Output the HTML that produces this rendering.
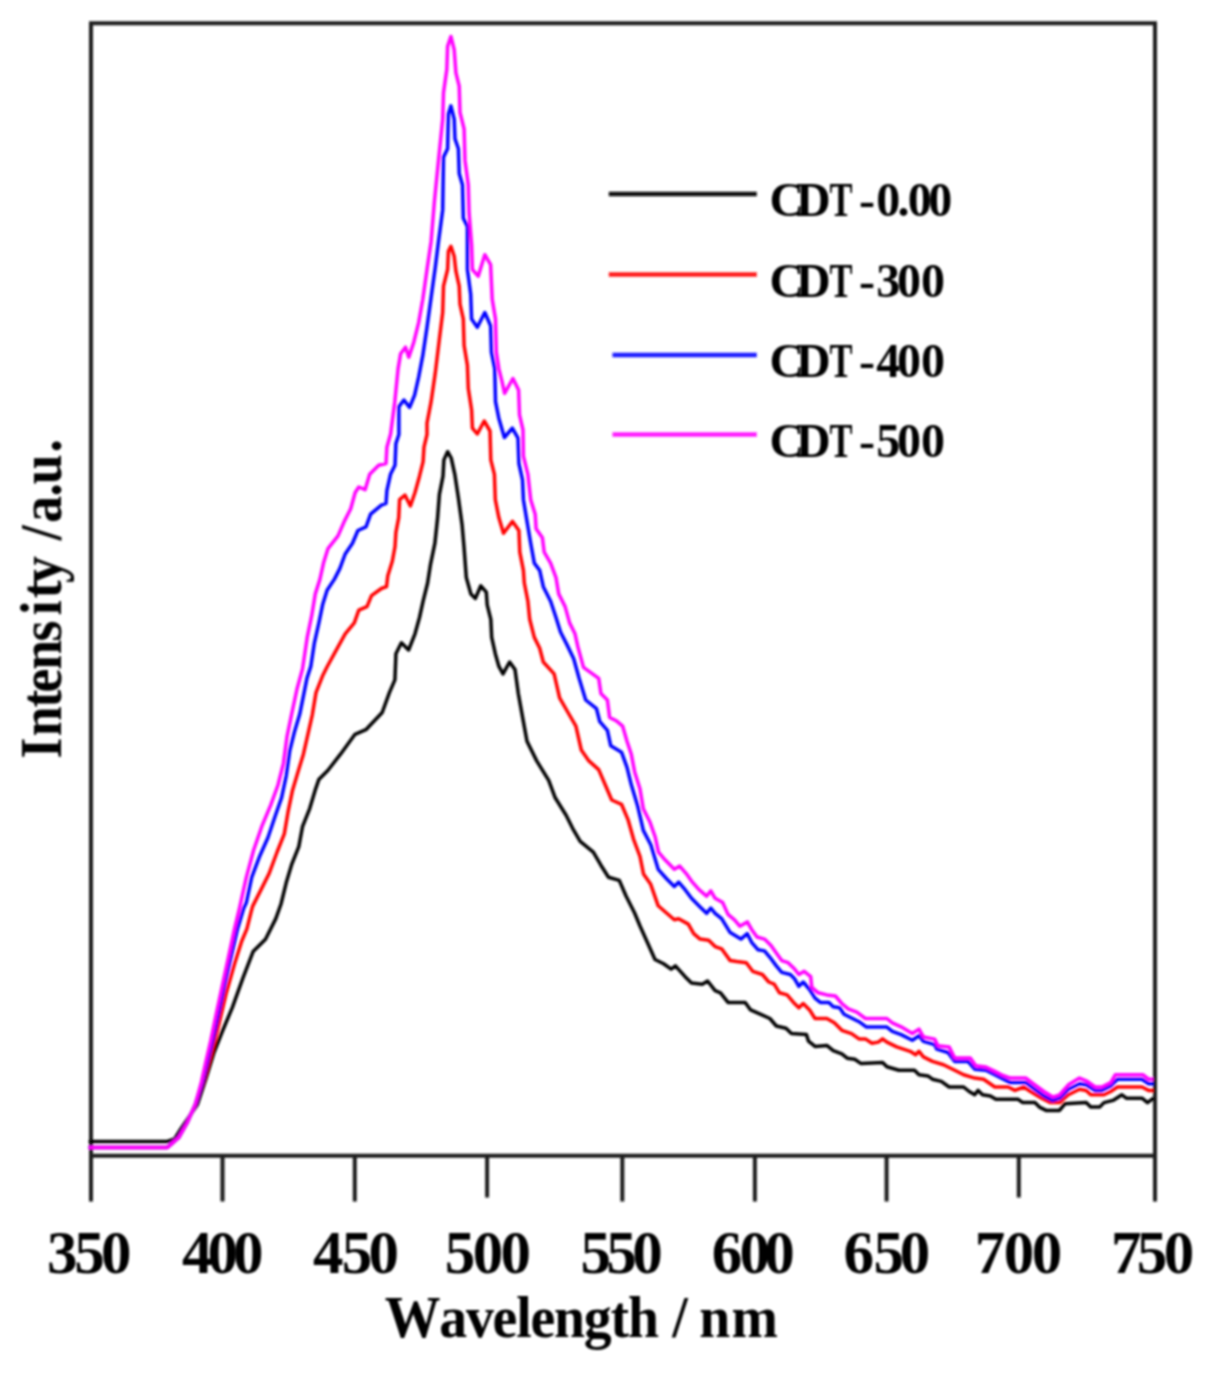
<!DOCTYPE html>
<html><head><meta charset="utf-8"><title>PL spectra</title>
<style>html,body{margin:0;padding:0;background:#fff}svg{display:block}</style></head>
<body>
<svg width="1211" height="1380" viewBox="0 0 1211 1380" font-family='"Liberation Serif", serif' font-weight="bold" fill="#000">
<rect width="1211" height="1380" fill="#fff"/>
<defs><filter id="soft" x="0" y="0" width="1211" height="1380" filterUnits="userSpaceOnUse"><feGaussianBlur stdDeviation="1"/></filter></defs>
<g filter="url(#soft)">
<g stroke="#1c1c1c" stroke-width="4" fill="none" stroke-linecap="square">
<path d="M91,1155.8 L91,23.2 L1155,23.2 L1155,1155.8 Z"/>
<path d="M91,1155.8 L91,1201.5" stroke-linecap="butt"/>
<path d="M222.5,1155.8 L222.5,1201.5" stroke-linecap="butt"/>
<path d="M354.8,1155.8 L354.8,1201.5" stroke-linecap="butt"/>
<path d="M487.1,1155.8 L487.1,1197.5" stroke-linecap="butt"/>
<path d="M622.3,1155.8 L622.3,1201.5" stroke-linecap="butt"/>
<path d="M754.9,1155.8 L754.9,1201.5" stroke-linecap="butt"/>
<path d="M886.6,1155.8 L886.6,1201.5" stroke-linecap="butt"/>
<path d="M1018.8,1155.8 L1018.8,1197.5" stroke-linecap="butt"/>
<path d="M1155,1155.8 L1155,1201.5" stroke-linecap="butt"/>
</g>
<path d="M88.6,1141.5 L167.4,1141.5 L174.6,1139.0 L180.8,1129.0 L197.4,1104.4 L205.6,1079.6 L213.9,1052.8 L222.1,1032.0 L232.4,1007.4 L242.8,978.4 L253.1,951.6 L265.5,939.2 L275.8,918.6 L281.0,904.0 L286.2,882.8 L291.6,864.7 L298.8,846.6 L302.5,826.7 L309.7,808.6 L315.1,790.4 L318.8,779.6 L327.8,770.5 L340.5,754.2 L355.0,734.3 L365.9,729.7 L382.2,712.5 L389.4,692.6 L394.9,679.9 L395.7,660.0 L395.9,653.7 L401.4,642.8 L408.6,650.0 L415.0,633.8 L419.5,617.5 L423.1,601.2 L427.6,583.0 L430.4,564.9 L434.9,543.2 L437.6,517.8 L439.4,494.3 L443.0,476.2 L443.9,459.9 L447.6,451.7 L451.2,458.0 L454.8,474.3 L458.4,497.9 L462.1,525.1 L464.0,546.8 L466.3,577.6 L470.9,593.9 L475.4,598.4 L480.8,585.8 L486.3,592.1 L487.2,604.8 L490.8,619.3 L491.7,637.4 L495.3,653.7 L498.9,666.4 L503.0,673.9 L509.6,662.0 L515.0,669.6 L518.3,693.5 L522.6,717.4 L527.0,741.3 L536.7,760.9 L548.7,780.4 L555.2,797.8 L566.1,815.2 L572.6,828.3 L580.2,841.3 L593.3,852.2 L600.9,865.2 L608.5,877.2 L619.3,880.4 L625.9,895.7 L634.6,913.0 L640.0,926.0 L646.4,940.2 L655.0,959.5 L663.6,963.8 L671.1,969.1 L675.4,965.9 L685.1,976.7 L691.5,983.1 L702.3,984.2 L707.6,981.0 L715.1,990.6 L720.5,992.8 L728.0,1002.4 L745.2,1002.4 L750.6,1009.9 L760.2,1014.2 L769.9,1018.5 L776.3,1026.0 L786.0,1028.2 L791.4,1033.6 L806.4,1034.6 L808.5,1041.1 L815.0,1046.4 L826.8,1045.4 L833.2,1050.7 L841.8,1053.9 L847.2,1058.2 L854.7,1059.3 L861.1,1063.6 L882.6,1062.5 L886.9,1066.8 L898.9,1070.3 L914.5,1070.3 L919.0,1074.8 L927.9,1075.9 L932.4,1079.2 L941.3,1081.4 L949.1,1087.0 L963.6,1087.0 L969.2,1091.5 L974.7,1094.8 L978.1,1090.4 L982.5,1094.8 L990.3,1095.9 L995.9,1099.3 L1018.2,1099.3 L1022.7,1102.6 L1034.9,1102.6 L1039.4,1107.1 L1046.1,1110.4 L1059.5,1110.4 L1065.0,1103.7 L1086.2,1102.6 L1090.7,1107.1 L1099.6,1107.1 L1104.0,1102.6 L1113.0,1100.4 L1121.9,1094.8 L1126.3,1098.2 L1142.0,1098.2 L1147.5,1102.6 L1153.5,1098.2" fill="none" stroke="#000000" stroke-width="3.5" stroke-linejoin="round" stroke-linecap="butt"/>
<path d="M88.6,1147.4 L167.4,1147.4 L178.8,1137.4 L187.0,1123.0 L195.3,1104.4 L203.0,1083.0 L211.0,1055.0 L219.0,1023.9 L226.3,992.9 L234.5,964.0 L241.7,941.3 L246.9,928.9 L251.0,912.4 L252.6,906.4 L260.8,890.1 L269.0,873.8 L277.1,852.0 L284.3,833.9 L288.0,812.2 L292.5,790.4 L297.9,772.3 L303.4,754.2 L307.9,734.3 L312.4,714.3 L316.0,692.6 L322.4,676.3 L327.0,667.0 L334.3,653.7 L345.2,633.8 L354.3,622.9 L358.8,610.2 L367.0,606.6 L371.5,595.7 L381.4,588.5 L386.5,586.7 L387.8,575.8 L392.3,561.3 L395.0,546.8 L395.9,532.3 L398.7,517.8 L399.6,499.7 L405.0,495.2 L410.4,506.0 L415.0,492.5 L419.5,476.2 L423.1,461.7 L424.0,447.2 L427.0,434.5 L427.0,423.1 L431.1,401.7 L435.2,373.6 L439.4,338.9 L442.7,312.5 L443.5,286.1 L447.6,269.5 L448.4,251.4 L450.9,246.4 L454.2,256.3 L455.9,271.2 L459.2,286.1 L460.0,304.2 L463.3,319.1 L464.1,345.5 L467.4,365.3 L468.3,388.5 L471.6,409.9 L472.4,428.1 L477.3,434.0 L484.2,421.0 L490.0,431.0 L490.8,459.9 L494.4,474.3 L495.3,499.7 L498.9,517.8 L503.5,533.2 L512.5,521.4 L518.9,530.5 L519.8,552.2 L523.4,570.4 L524.3,583.0 L527.9,601.2 L529.7,619.3 L534.3,637.4 L539.7,648.3 L543.3,662.0 L554.1,673.9 L559.6,697.8 L568.3,713.0 L575.9,726.1 L581.3,750.0 L588.9,760.9 L598.7,769.6 L605.2,784.8 L611.7,800.0 L621.5,804.3 L628.0,819.6 L633.5,839.1 L640.0,856.5 L643.5,874.0 L650.7,884.3 L658.2,905.8 L666.8,913.3 L674.3,919.8 L678.6,918.7 L688.3,924.1 L693.7,933.7 L700.1,939.1 L708.7,940.2 L715.1,946.6 L721.6,948.8 L730.2,960.6 L736.6,961.6 L746.3,962.7 L752.7,971.3 L762.4,974.5 L768.8,982.0 L774.2,984.2 L779.5,992.8 L787.1,994.9 L793.5,1002.4 L798.9,1007.8 L803.2,1003.5 L809.6,1009.9 L815.0,1018.5 L826.8,1018.5 L834.3,1022.8 L841.8,1030.3 L851.5,1033.6 L859.0,1038.9 L865.4,1038.9 L871.9,1043.2 L878.3,1042.1 L882.6,1038.9 L886.9,1042.1 L896.7,1046.9 L910.1,1051.3 L915.6,1054.7 L919.0,1051.3 L923.4,1056.9 L932.4,1061.4 L943.5,1064.7 L954.7,1070.3 L963.6,1074.8 L974.7,1078.1 L983.6,1079.2 L994.8,1087.0 L1008.2,1087.0 L1014.9,1090.4 L1023.8,1087.0 L1030.5,1091.5 L1041.6,1098.2 L1050.5,1102.6 L1059.5,1102.6 L1068.4,1094.8 L1079.5,1089.3 L1086.2,1090.4 L1090.7,1094.8 L1104.0,1094.8 L1110.7,1091.5 L1117.4,1087.0 L1142.0,1087.0 L1148.6,1090.4 L1153.5,1090.4" fill="none" stroke="#ff0000" stroke-width="3.5" stroke-linejoin="round" stroke-linecap="butt"/>
<path d="M88.6,1147.4 L167.4,1147.4 L178.8,1137.4 L187.0,1123.0 L195.3,1104.4 L202.5,1081.7 L207.0,1063.0 L212.5,1040.4 L217.9,1015.6 L224.1,986.7 L230.8,957.8 L237.5,928.9 L243.7,908.3 L246.3,902.8 L251.7,877.4 L259.9,855.7 L268.0,837.5 L275.3,815.8 L281.6,797.7 L286.2,776.0 L289.8,750.6 L294.3,732.5 L299.7,714.3 L303.4,696.2 L307.0,678.1 L310.8,666.4 L314.4,642.8 L318.9,622.9 L322.6,604.8 L327.1,590.3 L334.3,579.4 L339.8,568.6 L345.2,554.0 L352.5,543.2 L357.9,530.5 L366.0,526.9 L370.6,514.2 L381.4,505.1 L386.0,503.3 L386.9,490.7 L390.5,474.3 L395.0,465.3 L395.9,443.6 L398.9,434.5 L398.9,406.6 L403.9,400.0 L409.6,407.4 L414.6,395.1 L418.7,376.9 L422.8,355.4 L427.0,327.3 L431.1,297.6 L435.2,267.9 L438.5,241.5 L442.7,209.9 L443.5,157.1 L447.6,148.8 L448.4,114.1 L450.9,105.9 L454.2,119.1 L455.0,138.9 L458.4,148.8 L459.2,173.6 L462.5,185.1 L463.3,218.2 L467.4,226.4 L467.4,269.5 L470.7,294.3 L471.6,319.1 L477.3,327.3 L484.8,312.5 L490.6,325.7 L491.4,352.1 L494.7,368.6 L495.5,401.7 L498.8,418.2 L504.4,437.5 L512.3,428.2 L518.0,438.1 L518.9,463.5 L522.5,479.8 L523.4,499.7 L527.0,521.4 L530.7,543.2 L534.3,563.1 L539.7,570.4 L543.3,586.7 L550.6,601.2 L556.0,617.5 L560.5,632.0 L566.9,644.6 L573.7,658.7 L579.1,678.3 L585.7,700.0 L596.5,708.7 L599.8,721.7 L607.4,730.4 L610.7,745.7 L621.5,752.2 L627.0,767.4 L631.3,784.8 L637.8,806.5 L643.3,830.4 L650.9,845.0 L658.2,869.3 L666.8,879.0 L674.3,886.5 L678.6,882.2 L685.1,889.7 L691.5,898.3 L700.1,906.9 L706.6,913.3 L710.8,908.0 L715.1,913.3 L721.6,918.7 L730.2,932.6 L740.9,939.1 L747.3,933.7 L751.6,942.3 L758.1,949.8 L764.5,950.9 L769.9,957.3 L776.3,965.9 L781.7,972.4 L790.3,974.5 L794.6,978.8 L798.9,986.3 L803.2,982.0 L809.6,989.5 L815.0,998.1 L820.3,1002.4 L828.9,1002.4 L833.2,1006.7 L839.7,1007.8 L844.0,1014.2 L852.5,1018.5 L859.0,1021.7 L866.5,1027.1 L886.9,1027.1 L892.3,1031.4 L901.1,1034.6 L912.3,1040.2 L919.0,1035.7 L923.4,1041.3 L934.6,1044.7 L936.8,1049.1 L948.0,1052.5 L954.7,1061.4 L968.0,1061.4 L974.7,1069.2 L985.9,1070.3 L994.8,1074.8 L1001.5,1078.1 L1010.4,1082.6 L1026.0,1082.6 L1034.9,1089.3 L1043.9,1095.9 L1052.8,1100.4 L1059.5,1098.2 L1068.4,1089.3 L1079.5,1083.7 L1086.2,1084.8 L1095.1,1090.4 L1101.8,1090.4 L1110.7,1085.9 L1117.4,1079.2 L1142.0,1079.2 L1148.6,1083.7 L1153.5,1083.7" fill="none" stroke="#0000ff" stroke-width="3.5" stroke-linejoin="round" stroke-linecap="butt"/>
<path d="M88.6,1147.4 L167.4,1147.4 L178.8,1137.4 L187.0,1123.0 L195.3,1104.4 L201.5,1081.7 L205.6,1063.0 L210.8,1040.4 L215.9,1015.6 L222.1,986.7 L228.3,957.8 L234.5,928.9 L239.5,908.2 L246.3,877.4 L253.6,850.2 L261.7,826.7 L270.8,804.9 L278.0,785.0 L283.4,763.3 L287.1,736.1 L291.6,714.3 L297.0,689.0 L302.5,669.0 L307.2,637.4 L311.7,615.7 L315.3,593.9 L319.9,579.4 L323.5,563.1 L328.0,548.6 L338.0,535.9 L344.3,521.4 L350.7,508.8 L355.2,492.5 L358.8,487.0 L365.1,489.7 L369.7,474.3 L378.7,465.3 L386.0,463.5 L386.9,447.2 L390.6,434.0 L394.8,401.7 L398.1,368.6 L400.6,353.8 L405.5,347.2 L408.8,357.1 L413.8,342.2 L418.7,322.4 L422.8,299.3 L427.0,269.5 L431.1,241.5 L434.4,201.7 L438.5,160.4 L442.7,119.1 L443.5,92.7 L446.8,69.5 L447.6,46.4 L450.9,36.5 L454.2,49.7 L455.9,72.8 L459.2,86.1 L460.0,112.5 L464.1,129.0 L465.0,160.4 L468.3,185.1 L469.1,213.2 L471.6,244.8 L472.4,269.5 L478.2,276.2 L484.8,254.7 L490.6,264.6 L492.2,299.3 L495.5,319.1 L496.3,352.1 L498.8,368.6 L502.1,381.8 L504.6,393.4 L512.9,378.5 L518.6,390.1 L519.5,414.9 L523.0,430.0 L523.4,456.2 L527.9,474.3 L530.7,499.7 L535.2,514.2 L536.1,528.7 L542.4,537.8 L544.2,552.2 L550.6,563.1 L556.0,577.6 L558.7,593.9 L565.1,606.6 L569.6,622.9 L575.0,633.8 L577.8,646.5 L583.5,667.4 L598.7,678.3 L600.9,693.5 L607.4,700.0 L609.6,717.4 L616.1,720.7 L622.6,726.1 L627.0,741.3 L631.3,754.3 L634.6,771.7 L640.0,789.1 L643.3,808.7 L649.8,821.7 L655.2,837.0 L658.5,852.2 L665.0,859.8 L674.3,869.3 L679.7,866.1 L686.2,873.6 L691.5,881.1 L699.0,889.7 L706.6,896.2 L710.8,890.8 L715.1,898.3 L722.7,902.6 L728.0,914.4 L734.5,919.8 L739.8,926.2 L747.3,921.9 L751.6,929.4 L757.0,937.0 L764.5,939.1 L771.0,945.5 L776.3,953.0 L781.7,960.6 L788.1,962.7 L794.6,969.1 L798.9,974.5 L804.2,971.3 L810.7,976.7 L811.8,987.4 L818.2,992.8 L826.8,994.9 L835.4,996.0 L841.8,1003.5 L848.2,1008.9 L856.8,1012.1 L865.4,1018.5 L886.9,1018.5 L892.3,1022.8 L901.1,1026.8 L912.3,1033.5 L919.0,1029.1 L923.4,1036.9 L934.6,1039.1 L937.9,1045.8 L949.1,1046.9 L954.7,1058.0 L970.3,1058.0 L975.8,1065.8 L985.9,1067.0 L994.8,1071.4 L1001.5,1074.8 L1010.4,1078.1 L1026.0,1078.1 L1034.9,1084.8 L1043.9,1091.5 L1052.8,1097.1 L1059.5,1094.8 L1068.4,1084.8 L1079.5,1078.1 L1087.3,1081.4 L1095.1,1087.0 L1101.8,1087.0 L1110.7,1082.6 L1115.2,1074.8 L1143.1,1074.8 L1148.6,1079.2 L1153.5,1079.2" fill="none" stroke="#ff00ff" stroke-width="3.5" stroke-linejoin="round" stroke-linecap="butt"/>
<text y="1273.3" x="47.0 74.2 101.1" font-size="61" >350</text>
<text y="1273.3" x="181.9 207.4 233.1" font-size="61" >400</text>
<text y="1273.3" x="313.1 341.7 368.6" font-size="61" >450</text>
<text y="1273.3" x="444.7 472.7 500.6" font-size="61" >500</text>
<text y="1273.3" x="580.5 606.3 632.2" font-size="61" >550</text>
<text y="1273.3" x="711.8 739.5 764.2" font-size="61" >600</text>
<text y="1273.3" x="843.6 873.4 899.7" font-size="61" >650</text>
<text y="1273.3" x="974.7 1003.8 1031.8" font-size="61" >700</text>
<text y="1273.3" x="1111.1 1136.8 1163.8" font-size="61" >750</text>
<text y="1336.6" x="413.6 472.3 501.0 529.7 555.0 570.4 595.7 627.8 656.5 675.2 705.2 722.9 742.9 751.9 786.6" font-size="60" transform="scale(0.93,1)">Wavelength / nm</text>
<g transform="translate(61,760) rotate(-90) scale(0.9,1)"><text y="0.0" x="1.6 26.2 58.3 74.8 100.3 131.5 160.7 179.6 196.6 244.0 244.0 263.4 292.8 306.2 341.5" font-size="60" >Intensity /a.u.</text></g>
<path d="M608.8,194 L756.8,194" stroke="#111" stroke-width="4.5" fill="none"/>
<path d="M608.8,274.6 L756.8,274.6" stroke="#ff1a1a" stroke-width="4.5" fill="none"/>
<path d="M612.5,354.9 L756.8,354.9" stroke="#1a1aff" stroke-width="4.5" fill="none"/>
<path d="M612.5,434.5 L756.8,434.5" stroke="#ff1aff" stroke-width="4.5" fill="none"/>
<text y="216.2" font-size="48"><tspan x="769.5 796.1">CD</tspan><tspan x="829.4" textLength="23" lengthAdjust="spacingAndGlyphs">T</tspan><tspan x="850.0 859.0 876.2 897.4 907.7 928.2"> -0.00</tspan></text>
<text y="296.8" font-size="48"><tspan x="769.5 796.1">CD</tspan><tspan x="829.4" textLength="23" lengthAdjust="spacingAndGlyphs">T</tspan><tspan x="850.0 859.0 876.2 896.9 920.9"> -300</tspan></text>
<text y="377.1" font-size="48"><tspan x="769.5 796.1">CD</tspan><tspan x="829.4" textLength="23" lengthAdjust="spacingAndGlyphs">T</tspan><tspan x="850.0 859.0 876.2 896.9 920.9"> -400</tspan></text>
<text y="456.7" font-size="48"><tspan x="769.5 796.1">CD</tspan><tspan x="829.4" textLength="23" lengthAdjust="spacingAndGlyphs">T</tspan><tspan x="850.0 859.0 876.2 896.9 920.9"> -500</tspan></text>
</g>
</svg>
</body></html>
